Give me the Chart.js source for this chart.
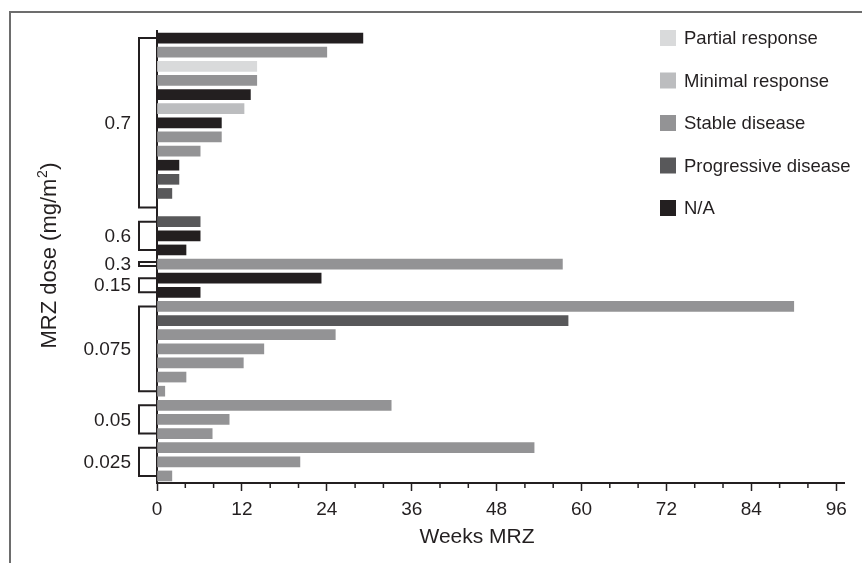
<!DOCTYPE html>
<html>
<head>
<meta charset="utf-8">
<script src="https://cdn.jsdelivr.net/npm/chart.js@4.4.0/dist/chart.umd.min.js"></script>
<style>
html, body { margin: 0; padding: 0; background: #fff; }
#wrap { width: 862px; height: 563px; position: relative; }
</style>
</head>
<body>
<div id="wrap"><canvas id="chart" width="862" height="563"></canvas></div>
<script>
// Dose groups (mg/m2), top to bottom, and the number of patient rows in each
var doseLabels = ['0.7', '0.6', '0.3', '0.15', '0.075', '0.05', '0.025'];
var groupSizes = [13, 3, 1, 2, 7, 3, 3];

// Weeks on MRZ for every patient row, top to bottom (null = empty row)
var weeks = [29.1, 24.0, 14.1, 14.1, 13.2, 12.3, 9.1, 9.1, 6.1, 3.1, 3.1, 2.1, null,
             6.1, 6.1, 4.1,
             57.3,
             23.2, 6.1,
             90.0, 58.1, 25.2, 15.1, 12.2, 4.1, 1.1,
             33.1, 10.2, 7.8,
             53.3, 20.2, 2.1];

// Best response for every row
var response = ['NA', 'SD', 'PR', 'SD', 'NA', 'MR', 'NA', 'SD', 'SD', 'NA', 'PD', 'PD', null,
                'PD', 'NA', 'NA',
                'SD',
                'NA', 'NA',
                'SD', 'PD', 'SD', 'SD', 'SD', 'SD', 'SD',
                'SD', 'SD', 'SD',
                'SD', 'SD', 'SD'];

var responseCodes  = ['PR', 'MR', 'SD', 'PD', 'NA'];
var responseNames  = ['Partial response', 'Minimal response', 'Stable disease', 'Progressive disease', 'N/A'];
var responseColors = ['#d9dadb', '#bcbdbf', '#939395', '#58585a', '#231f20'];

var xTicks = [0, 12, 24, 36, 48, 60, 72, 84, 96];
var minorStep = 4;
var xTitle = 'Weeks MRZ';

var ink = '#231f20';
var fontFamily = "'Liberation Sans', Arial, Helvetica, sans-serif";

// One category per row, named after its dose group
var rowLabels = [];
for (let g = 0; g < doseLabels.length; g++) {
    for (let k = 0; k < groupSizes[g]; k++) {
        rowLabels.push(doseLabels[g]);
    }
}

var barColors = response.map(function (r) {
    let i = responseCodes.indexOf(r);
    return i < 0 ? 'rgba(0,0,0,0)' : responseColors[i];
});

// Frame round the figure (only top and left edge are visible)
var framePlugin = {
    id: 'frame',
    beforeDraw: function (chart) {
        let ctx = chart.ctx;
        ctx.save();
        ctx.strokeStyle = '#6d6d6d';
        ctx.lineWidth = 2;
        ctx.beginPath();
        ctx.moveTo(10, 563);
        ctx.lineTo(10, 12);
        ctx.lineTo(862, 12);
        ctx.stroke();
        ctx.restore();
    }
};

// Brackets + dose labels left of the axis, axis titles, minor ticks, legend
var extrasPlugin = {
    id: 'extras',
    afterDraw: function (chart) {
        let ctx = chart.ctx;
        let y = chart.scales.y;
        let x = chart.scales.x;
        let axisX = chart.chartArea.left;
        let axisY = chart.chartArea.bottom;
        ctx.save();

        // dose brackets
        let start = 0;
        ctx.strokeStyle = ink;
        ctx.lineWidth = 2;
        ctx.fillStyle = ink;
        ctx.font = '19px ' + fontFamily;
        ctx.textAlign = 'right';
        ctx.textBaseline = 'middle';
        for (let g = 0; g < doseLabels.length; g++) {
            let end = start + groupSizes[g] - 1;
            let y1 = y.getPixelForValue(start);
            let y2 = y.getPixelForValue(end);
            if (end === start) { y1 -= 2; y2 += 2; }
            ctx.beginPath();
            ctx.moveTo(axisX, y1);
            ctx.lineTo(axisX - 18, y1);
            ctx.lineTo(axisX - 18, y2);
            ctx.lineTo(axisX, y2);
            ctx.stroke();
            ctx.fillText(doseLabels[g], axisX - 26, (y1 + y2) / 2 + 1);
            start = end + 1;
        }

        // x axis title (sits a bit left of the axis centre in the original)
        ctx.font = '21px ' + fontFamily;
        ctx.textAlign = 'center';
        ctx.fillText(xTitle, 477, 537);

        // y axis title with superscript
        ctx.translate(49, 256);
        ctx.rotate(-Math.PI / 2);
        ctx.textAlign = 'left';
        ctx.textBaseline = 'alphabetic';
        let bigFont = '22px ' + fontFamily;
        let supFont = '14px ' + fontFamily;
        let p1 = 'MRZ dose (mg/m', p2 = '2', p3 = ')';
        ctx.font = bigFont;
        let w1 = ctx.measureText(p1).width, w3 = ctx.measureText(p3).width;
        ctx.font = supFont;
        let w2 = ctx.measureText(p2).width;
        let tx = -(w1 + w2 + w3) / 2, base = 7;
        ctx.font = bigFont;
        ctx.fillText(p1, tx, base);
        ctx.font = supFont;
        ctx.fillText(p2, tx + w1 + 0.5, base - 9);
        ctx.font = bigFont;
        ctx.fillText(p3, tx + w1 + w2 + 1, base);
        ctx.setTransform(1, 0, 0, 1, 0, 0);

        // minor ticks on the x axis
        ctx.lineWidth = 1.5;
        for (let v = minorStep; v < xTicks[xTicks.length - 1]; v += minorStep) {
            if (xTicks.indexOf(v) >= 0) continue;
            let px = x.getPixelForValue(v);
            ctx.beginPath();
            ctx.moveTo(px, axisY);
            ctx.lineTo(px, axisY + 5);
            ctx.stroke();
        }

        // legend
        ctx.font = '18.5px ' + fontFamily;
        ctx.textAlign = 'left';
        ctx.textBaseline = 'middle';
        for (let i = 0; i < responseNames.length; i++) {
            let cy = 38 + i * 42.5;
            ctx.fillStyle = responseColors[i];
            ctx.fillRect(660, cy - 8, 16, 16);
            ctx.fillStyle = ink;
            ctx.fillText(responseNames[i], 684, cy + 1);
        }
        ctx.restore();
    }
};

new Chart(document.getElementById('chart'), {
    type: 'bar',
    data: {
        labels: rowLabels,
        datasets: [{
            label: xTitle,
            data: weeks,
            backgroundColor: barColors,
            borderWidth: 0,
            barThickness: 10
        }]
    },
    options: {
        indexAxis: 'y',
        responsive: false,
        animation: false,
        devicePixelRatio: 1,
        layout: { padding: { left: 157, right: 18, top: 31, bottom: 0 } },
        plugins: {
            legend: { display: false },
            tooltip: { enabled: false }
        },
        scales: {
            y: {
                type: 'category',
                grid: { display: false },
                ticks: { display: false },
                border: { display: true, color: ink, width: 2 },
                afterFit: function (s) { s.width = 0; }
            },
            x: {
                type: 'linear',
                min: 0,
                max: 97.1,
                grid: { display: true, drawOnChartArea: false, drawTicks: true, tickLength: 8, tickColor: ink, tickWidth: 1.5 },
                border: { display: true, color: ink, width: 2 },
                afterBuildTicks: function (s) {
                    s.ticks = xTicks.map(function (v) { return { value: v }; });
                },
                afterFit: function (s) { s.height = 80; },
                ticks: {
                    autoSkip: false,
                    maxRotation: 0,
                    padding: 7,
                    color: ink,
                    font: { family: fontFamily, size: 19 }
                },
                title: { display: false }
            }
        }
    },
    plugins: [framePlugin, extrasPlugin]
});
</script>
</body>
</html>
